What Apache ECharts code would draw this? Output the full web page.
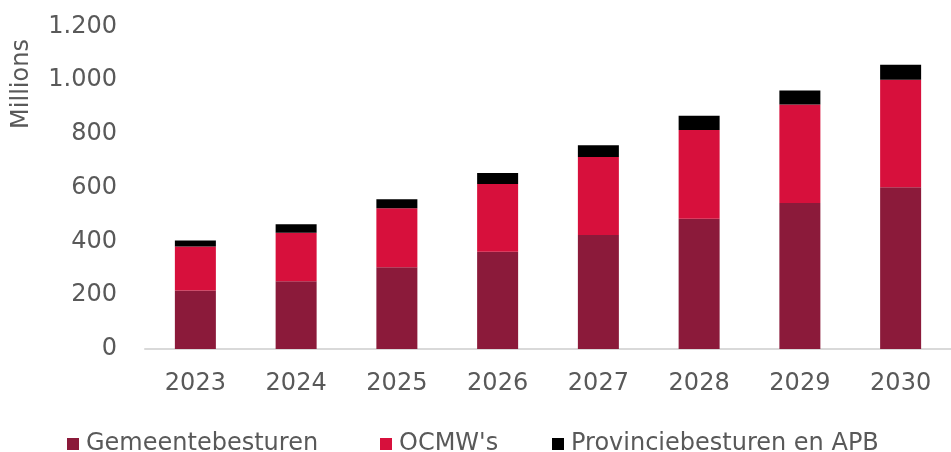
<!DOCTYPE html>
<html>
<head>
<meta charset="utf-8">
<script src="https://cdn.jsdelivr.net/npm/echarts@6/dist/echarts.min.js"></script>
<style>
html,body{margin:0;padding:0;background:#fff;}
#chart{width:951px;height:452px;}
</style>
</head>
<body>
<div id="chart"></div>
<script>
var years = ['2023', '2024', '2025', '2026', '2027', '2028', '2029', '2030'];
var gemeenten = [218, 252, 304, 362, 424, 485, 543, 602];
var ocmw = [163, 181, 220, 252, 290, 330, 367, 400];
var provincie = [23, 31, 33, 41, 44, 53, 52, 56];
var names = ['Gemeentebesturen', "OCMW's", 'Provinciebesturen en APB'];

var myChart = echarts.init(document.getElementById('chart'));
var txt = '#595959', font = 'DejaVu Sans';

function bar(name, data, color){
    return {
        name: name, type: 'bar', stack: 'tot', data: data,
        barWidth: 41, itemStyle: {color: color}
    };
}

// one legend per item so the markers sit where the original has them
function leg(name, left){
    return {
        top: 427, left: left,
        itemWidth: 12, itemHeight: 12, itemGap: 0,
        icon: 'rect',
        textStyle: {color: txt, fontSize: 24, fontFamily: font, padding: [0, 0, 0, 2]},
        data: [name]
    };
}

myChart.setOption({
    animation: false,
    textStyle: {fontFamily: font},
    grid: {left: 145, top: 26.5, width: 818, height: 322.5},
    legend: [leg(names[0], 62), leg(names[1], 375), leg(names[2], 547)],
    graphic: [{
        type: 'text', x: 22, y: 84, rotation: Math.PI / 2,
        style: {text: 'Millions', fill: txt, font: '24px DejaVu Sans', align: 'center', verticalAlign: 'middle'}
    }],
    xAxis: {
        type: 'category', data: years,
        axisLine: {lineStyle: {color: '#d9d9d9', width: 2}},
        axisTick: {show: false},
        axisLabel: {color: txt, fontSize: 24, margin: 23}
    },
    yAxis: {
        type: 'value', min: 0, max: 1200, interval: 200,
        splitLine: {show: false},
        axisLabel: {
            color: txt, fontSize: 24, margin: 28,
            formatter: function(v){ return v >= 1000 ? (v / 1000).toFixed(3) : v; }
        }
    },
    series: [
        bar(names[0], gemeenten, '#8b1a3a'),
        bar(names[1], ocmw, '#d7103c'),
        bar(names[2], provincie, '#000000')
    ]
});
</script>
</body>
</html>
